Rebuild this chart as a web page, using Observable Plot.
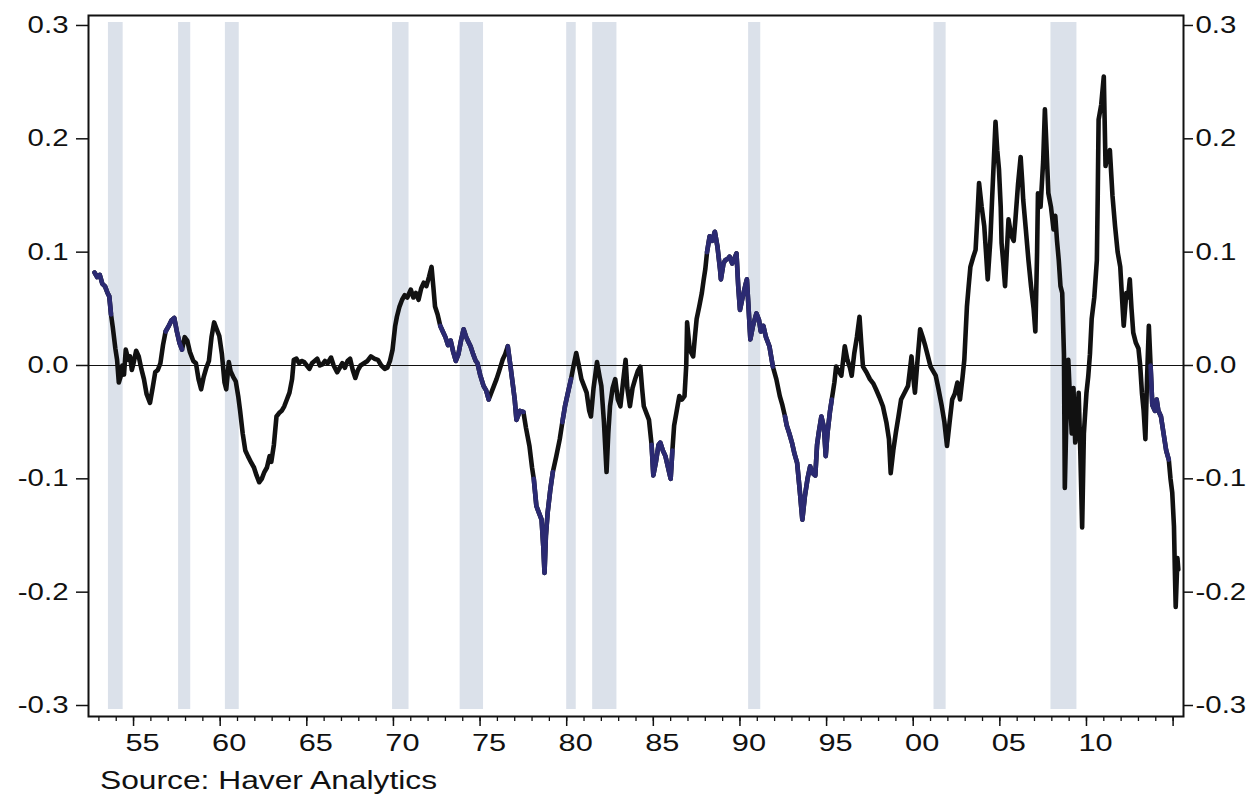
<!DOCTYPE html>
<html><head><meta charset="utf-8">
<script src="https://cdn.jsdelivr.net/npm/d3@7"></script>
<script src="https://cdn.jsdelivr.net/npm/@observablehq/plot@0.6"></script>
<style>
body{margin:0;background:#fff;}
#wrap{position:relative;width:1256px;height:796px;background:#fff;}
#cap{position:absolute;left:100px;top:768px;font-family:"Liberation Sans",Arial,sans-serif;font-size:25px;line-height:25px;transform:scaleX(1.27);transform-origin:left top;white-space:nowrap;color:#111;}
</style></head>
<body><div id="wrap"><div id="chart"></div><div id="cap">Source: Haver Analytics</div></div>
<script>
const years = [
1952.75,1952.9,1953.05,1953.2,1953.35,1953.5,1953.6,1953.7,1953.8,1953.95,1954.05,1954.15,1954.25,1954.35,1954.45,1954.55,1954.7,1954.8,1954.9,1955.0,
1955.15,1955.3,1955.45,1955.6,1955.75,1955.95,1956.1,1956.25,1956.4,1956.55,1956.7,1956.85,1957.0,1957.2,1957.35,1957.5,1957.65,1957.8,1957.95,1958.1,
1958.25,1958.45,1958.6,1958.75,1958.9,1959.05,1959.2,1959.35,1959.5,1959.65,1959.8,1959.95,1960.1,1960.25,1960.35,1960.5,1960.6,1960.75,1960.9,1961.05,
1961.15,1961.3,1961.45,1961.6,1961.8,1961.95,1962.1,1962.25,1962.4,1962.55,1962.7,1962.85,1962.95,1963.1,1963.25,1963.4,1963.55,1963.7,1963.85,1964.0,
1964.15,1964.25,1964.4,1964.55,1964.7,1964.85,1965.0,1965.15,1965.3,1965.45,1965.6,1965.75,1965.9,1966.05,1966.2,1966.4,1966.55,1966.75,1966.9,1967.05,
1967.2,1967.35,1967.5,1967.65,1967.8,1967.95,1968.1,1968.3,1968.5,1968.7,1968.9,1969.1,1969.3,1969.5,1969.65,1969.8,1969.95,1970.1,1970.2,1970.35,
1970.5,1970.65,1970.8,1971.0,1971.15,1971.3,1971.45,1971.6,1971.75,1971.9,1972.05,1972.2,1972.3,1972.4,1972.55,1972.7,1972.85,1973.0,1973.15,1973.3,
1973.45,1973.6,1973.75,1973.9,1974.05,1974.2,1974.35,1974.45,1974.6,1974.75,1974.85,1975.0,1975.2,1975.35,1975.5,1975.65,1975.8,1975.95,1976.1,1976.3,
1976.45,1976.6,1976.75,1976.9,1977.0,1977.1,1977.3,1977.5,1977.65,1977.85,1978.0,1978.1,1978.25,1978.4,1978.55,1978.65,1978.72,1978.8,1978.9,1979.05,
1979.2,1979.4,1979.6,1979.75,1979.9,1980.1,1980.25,1980.4,1980.55,1980.7,1980.85,1981.0,1981.15,1981.3,1981.4,1981.55,1981.75,1981.9,1982.0,1982.15,
1982.3,1982.4,1982.5,1982.65,1982.8,1982.95,1983.1,1983.25,1983.4,1983.5,1983.65,1983.8,1983.95,1984.1,1984.25,1984.35,1984.45,1984.6,1984.75,1984.9,
1985.0,1985.15,1985.3,1985.4,1985.55,1985.7,1985.85,1986.0,1986.1,1986.2,1986.35,1986.5,1986.65,1986.8,1986.9,1986.95,1987.1,1987.3,1987.4,1987.5,
1987.65,1987.8,1987.9,1988.0,1988.1,1988.25,1988.4,1988.55,1988.7,1988.85,1988.9,1989.05,1989.15,1989.3,1989.4,1989.55,1989.7,1989.8,1989.9,1990.0,
1990.15,1990.3,1990.4,1990.5,1990.6,1990.75,1990.95,1991.1,1991.2,1991.35,1991.5,1991.7,1991.8,1991.9,1992.1,1992.3,1992.45,1992.6,1992.7,1992.85,
1993.0,1993.15,1993.3,1993.45,1993.6,1993.75,1993.9,1994.05,1994.2,1994.35,1994.45,1994.55,1994.7,1994.85,1994.95,1995.05,1995.2,1995.3,1995.45,1995.55,
1995.7,1995.85,1996.05,1996.2,1996.35,1996.45,1996.6,1996.75,1996.9,1997.0,1997.1,1997.3,1997.5,1997.7,1997.85,1998.05,1998.25,1998.45,1998.6,1998.7,
1998.85,1999.0,1999.15,1999.3,1999.5,1999.7,1999.8,1999.9,2000.0,2000.1,2000.25,2000.4,2000.55,2000.7,2000.85,2001.0,2001.15,2001.3,2001.45,2001.65,
2001.8,2001.95,2002.1,2002.25,2002.4,2002.55,2002.7,2002.85,2002.95,2003.1,2003.2,2003.3,2003.45,2003.6,2003.7,2003.8,2003.95,2004.1,2004.2,2004.3,
2004.45,2004.55,2004.65,2004.75,2004.85,2004.95,2005.05,2005.1,2005.2,2005.3,2005.4,2005.5,2005.65,2005.8,2005.9,2006.05,2006.2,2006.3,2006.35,2006.5,
2006.65,2006.8,2006.95,2007.05,2007.15,2007.2,2007.35,2007.5,2007.6,2007.7,2007.8,2007.95,2008.1,2008.2,2008.3,2008.4,2008.5,2008.6,2008.7,2008.75,
2008.85,2008.95,2009.05,2009.15,2009.25,2009.35,2009.45,2009.55,2009.65,2009.75,2009.85,2010.0,2010.1,2010.2,2010.3,2010.45,2010.6,2010.65,2010.7,2010.85,
2011.0,2011.1,2011.2,2011.35,2011.5,2011.65,2011.8,2011.95,2012.05,2012.15,2012.3,2012.4,2012.5,2012.6,2012.7,2012.85,2013.0,2013.1,2013.2,2013.3,
2013.4,2013.5,2013.6,2013.7,2013.8,2013.95,2014.05,2014.15,2014.3,2014.45,2014.6,2014.75,2014.85,2014.95,2015.05,2015.1,2015.15,2015.25,2015.3
];
const values = [
0.082,0.078,0.080,0.072,0.070,0.064,0.061,0.045,0.034,0.015,0.005,-0.015,-0.010,0.000,-0.008,0.014,0.005,0.008,-0.004,0.002,
0.013,0.008,-0.003,-0.012,-0.025,-0.033,-0.020,-0.006,-0.004,0.002,0.018,0.030,0.034,0.040,0.042,0.030,0.020,0.014,0.025,0.022,
0.012,0.004,0.002,-0.012,-0.021,-0.010,-0.002,0.004,0.025,0.038,0.032,0.026,0.010,-0.015,-0.021,0.003,-0.005,-0.010,-0.014,-0.028,
-0.040,-0.060,-0.075,-0.080,-0.086,-0.090,-0.097,-0.103,-0.100,-0.094,-0.090,-0.080,-0.085,-0.070,-0.045,-0.042,-0.040,-0.036,-0.030,-0.024,
-0.012,0.005,0.006,0.002,0.004,0.003,0.000,-0.003,0.002,0.004,0.006,0.000,0.001,0.004,0.002,0.007,0.000,-0.006,-0.002,0.002,
-0.002,0.004,0.006,-0.004,-0.011,-0.004,0.000,0.002,0.004,0.008,0.006,0.005,0.000,-0.003,-0.002,0.004,0.014,0.035,0.043,0.052,
0.058,0.062,0.060,0.067,0.060,0.064,0.058,0.068,0.073,0.070,0.078,0.087,0.070,0.052,0.045,0.035,0.030,0.025,0.018,0.022,
0.012,0.004,0.010,0.022,0.032,0.025,0.020,0.017,0.010,0.004,0.002,-0.008,-0.018,-0.022,-0.030,-0.024,-0.018,-0.012,-0.005,0.005,
0.010,0.017,0.000,-0.018,-0.030,-0.048,-0.040,-0.041,-0.055,-0.071,-0.090,-0.100,-0.124,-0.130,-0.136,-0.160,-0.183,-0.150,-0.130,-0.110,
-0.094,-0.080,-0.065,-0.050,-0.036,-0.022,-0.012,0.000,0.011,0.000,-0.012,-0.018,-0.024,-0.040,-0.045,-0.020,0.003,-0.010,-0.018,-0.050,
-0.094,-0.060,-0.036,-0.020,-0.012,-0.030,-0.036,-0.015,0.005,-0.020,-0.036,-0.020,-0.012,-0.005,-0.001,-0.020,-0.036,-0.042,-0.048,-0.070,
-0.097,-0.085,-0.070,-0.068,-0.075,-0.080,-0.090,-0.100,-0.075,-0.053,-0.040,-0.027,-0.030,-0.027,0.000,0.038,0.014,0.008,0.025,0.041,
0.052,0.064,0.075,0.085,0.100,0.114,0.110,0.118,0.105,0.085,0.076,0.090,0.093,0.094,0.096,0.090,0.095,0.099,0.070,0.049,
0.060,0.070,0.076,0.050,0.023,0.035,0.046,0.040,0.030,0.035,0.025,0.017,0.008,-0.001,-0.012,-0.027,-0.035,-0.045,-0.053,-0.060,
-0.068,-0.078,-0.086,-0.110,-0.136,-0.115,-0.100,-0.089,-0.095,-0.097,-0.070,-0.059,-0.045,-0.055,-0.080,-0.060,-0.040,-0.030,-0.015,-0.001,
-0.005,-0.009,0.017,0.005,-0.002,-0.009,0.011,0.025,0.043,0.020,-0.001,-0.006,-0.012,-0.016,-0.021,-0.028,-0.036,-0.050,-0.065,-0.095,
-0.075,-0.059,-0.045,-0.030,-0.024,-0.018,-0.005,0.008,-0.010,-0.024,0.005,0.032,0.025,0.017,0.008,-0.001,-0.005,-0.009,-0.020,-0.036,
-0.050,-0.071,-0.050,-0.030,-0.025,-0.015,-0.030,-0.010,0.005,0.052,0.070,0.087,0.095,0.102,0.130,0.161,0.140,0.123,0.100,0.076,
0.110,0.146,0.180,0.215,0.190,0.173,0.140,0.108,0.090,0.070,0.100,0.129,0.115,0.110,0.129,0.160,0.184,0.160,0.146,0.120,
0.093,0.070,0.050,0.030,0.100,0.152,0.140,0.180,0.226,0.190,0.152,0.140,0.120,0.132,0.110,0.093,0.070,0.064,0.010,-0.108,
-0.040,0.005,-0.030,-0.060,-0.020,-0.068,-0.050,-0.024,-0.080,-0.143,-0.060,-0.024,-0.010,0.010,0.041,0.060,0.093,0.150,0.217,0.230,
0.255,0.176,0.185,0.190,0.150,0.123,0.100,0.087,0.060,0.035,0.064,0.060,0.076,0.050,0.029,0.020,0.015,0.000,-0.024,-0.040,
-0.065,-0.010,0.035,0.000,-0.035,-0.040,-0.030,-0.040,-0.045,-0.060,-0.075,-0.083,-0.100,-0.112,-0.142,-0.180,-0.213,-0.170,-0.180
];
const navyStart = [1952.7, 1956.8, 1972.7, 1976.5, 1978.1, 1979.7, 1984.9, 1988.1, 1992.6, 2013.7];
const navyEnd   = [1953.7, 1957.9, 1975.5, 1977.6, 1979.2, 1980.3, 1986.1, 1991.9, 1995.4, 2014.8];
const recessionStart = [1953.55, 1957.6, 1960.3, 1969.95, 1973.85, 1980.0, 1981.5, 1990.5, 2001.2, 2007.95];
const recessionEnd   = [1954.4, 1958.3, 1961.1, 1970.9, 1975.2, 1980.55, 1982.9, 1991.2, 2001.9, 2009.45];
const xTickYears = [1955, 1960, 1965, 1970, 1975, 1980, 1985, 1990, 1995, 2000, 2005, 2010];
const xTickLabels = ["55", "60", "65", "70", "75", "80", "85", "90", "95", "00", "05", "10"];
const xEndTick = [2015];
const xMinorYears = d3.range(1953, 2016);
const yTicks = [-0.3, -0.2, -0.1, 0.0, 0.1, 0.2, 0.3];

const series = years.map((t, i) => ({t, v: values[i]}));
const navy = navyStart.flatMap((a, k) => series.filter(d => d.t >= a && d.t <= navyEnd[k]).map(d => ({...d, k})));
const recessions = recessionStart.map((s, i) => ({s, e: recessionEnd[i]}));
const xLabels = xTickYears.map((y, i) => ({y, label: xTickLabels[i]}));
const fmtY = d => d.toFixed(1);

const chart = Plot.plot({
  width: 1256, height: 762,
  marginLeft: 88, marginRight: 73, marginTop: 15, marginBottom: 46,
  x: {domain: [1952.4, 2015.6], label: null},
  y: {domain: [-0.3097, 0.3088], label: null},
  style: {fontFamily: '"Liberation Sans", Arial, sans-serif', fontSize: "23px", color: "#111", background: "#fff"},
  marks: [
    Plot.rect(recessions, {x1: "s", x2: "e", fill: "#dbe1ea", insetTop: 7, insetBottom: 7}),
    Plot.ruleY([0], {stroke: "#111", strokeWidth: 1.2}),
    Plot.line(series, {x: "t", y: "v", stroke: "#111", strokeWidth: 4.6, strokeLinejoin: "round"}),
    Plot.line(navy, {x: "t", y: "v", z: "k", stroke: "#2b2a72", strokeWidth: 4.6, strokeLinejoin: "round"}),
    Plot.axisX({ticks: xMinorYears, tickSize: 5, tickFormat: () => "", label: null, strokeWidth: 1.3}),
    Plot.axisX({ticks: [...xTickYears, ...xEndTick], tickSize: 10, tickFormat: () => "", label: null, strokeWidth: 1.5}),
    Plot.text(xLabels, {x: "y", text: "label", frameAnchor: "bottom", dy: 34, dx: 9, fontSize: 24, fill: "#111"}),
    Plot.axisY({anchor: "left", ticks: yTicks, tickSize: 12, tickPadding: 8, tickFormat: fmtY, label: null, strokeWidth: 1.5}),
    Plot.axisY({anchor: "right", ticks: yTicks, tickSize: 9, tickPadding: 3, tickFormat: fmtY, label: null, strokeWidth: 1.5}),
    Plot.frame({stroke: "#111", strokeWidth: 2})
  ]
});
document.getElementById("chart").append(chart);
chart.querySelectorAll("text").forEach(t => {
  const L = t.getComputedTextLength();
  if (L > 0) { t.setAttribute("textLength", (L * 1.28).toFixed(1)); t.setAttribute("lengthAdjust", "spacingAndGlyphs"); }
});
</script>
</body></html>
